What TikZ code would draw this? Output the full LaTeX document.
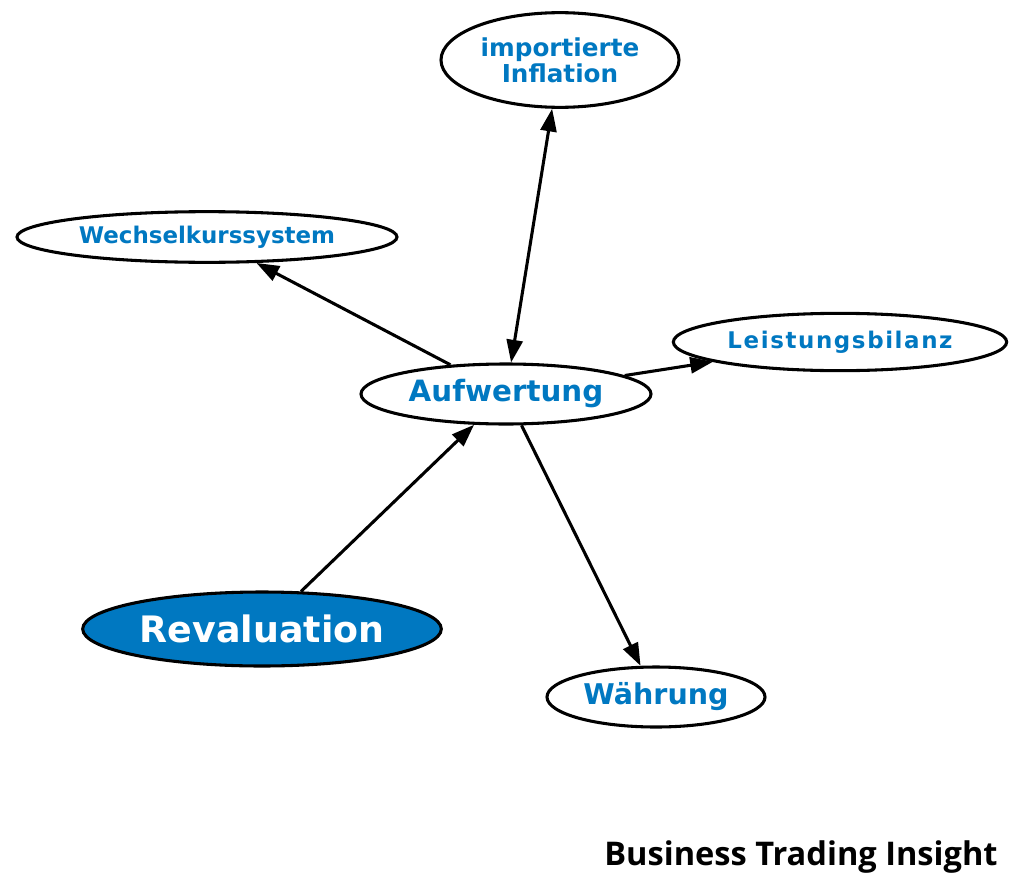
\documentclass[tikz,border=0pt]{standalone}
\usepackage{fontspec}
\usepackage{graphicx}
\setmainfont{DejaVu Sans}
\newfontfamily\spacedfont{DejaVu Sans}[LetterSpace=7]
\newfontfamily\logofont{Open Sans}
\usetikzlibrary{shapes.geometric,arrows.meta}
\definecolor{tblue}{RGB}{0,120,193}
\begin{document}
\begin{tikzpicture}[x=0.75pt,y=-0.75pt,
  nd/.style={ellipse,draw=black,line width=2.3pt,fill=white,inner sep=0pt,
    text=tblue,align=center},
  tip/.tip={Triangle[length=17pt,width=12pt]},
  edge/.style={line width=2.3pt,-tip},
  biedge/.style={line width=2.3pt,tip-tip}]
\useasboundingbox (0,0) rectangle (1024,892);
\node[nd,minimum width=178.5pt,minimum height=71pt,font=\fontsize{18.5}{19.5}\selectfont\bfseries] (inf) at (560,60) {importierte\\Inflation};
\node[nd,minimum width=285pt,minimum height=38pt,font=\fontsize{17.2}{20}\selectfont\bfseries] (wks) at (207,237) {Wechselkurssystem};
\node[nd,minimum width=250pt,minimum height=43pt,font=\fontsize{17.2}{20}\spacedfont\bfseries] (lb) at (840,342) {Leistungsbilanz};
\node[nd,minimum width=217.5pt,minimum height=45pt,font=\fontsize{22}{24}\selectfont\bfseries] (auf) at (506,394) {Aufwertung};
\node[nd,fill=tblue,text=white,minimum width=269pt,minimum height=55.5pt,font=\fontsize{27.3}{29}\selectfont\bfseries] (rev) at (262,629) {Revaluation};
\node[nd,minimum width=163.5pt,minimum height=45pt,font=\fontsize{21.4}{24}\selectfont\bfseries] (wae) at (656,697) {Währung};
\draw[biedge] (auf) -- (inf);
\draw[edge] (auf) -- (wks);
\draw[edge] (auf) -- (lb);
\draw[edge] (rev) -- (auf);
\draw[edge] (auf) -- (wae);
\node[inner sep=0pt,font=\logofont\bfseries] (logo) at (801,857) {\resizebox{295pt}{!}{Business Trading Insight}};
\end{tikzpicture}
\end{document}
